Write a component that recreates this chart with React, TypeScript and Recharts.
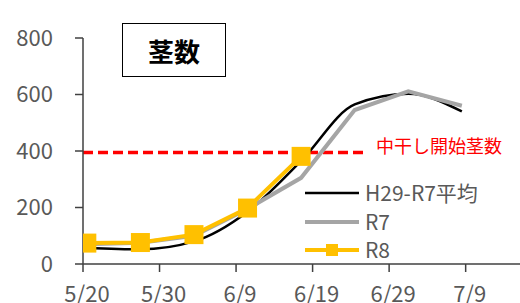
import { Line, LineChart, ReferenceLine, XAxis, YAxis } from "recharts";

const FONT = '"Noto Sans CJK JP", "Noto Sans", sans-serif';

// sampling dates as days after 5/20 (weekly)
const sampleDays = [0, 7, 14, 21, 28, 35, 42, 49];
const avgValues = [57, 52, 80, 185, 365, 565, 603, 540];
const r7Values = [70, 75, 100, 195, 305, 545, 611, 560];
const r8Values = [74, 76, 104, 198, 381, null, null, null];

const xTicks = [0, 10, 20, 30, 40, 50];
const xTickLabels = ["5/20", "5/30", "6/9", "6/19", "6/29", "7/9"];
const yTicks = [0, 200, 400, 600, 800];

const thresholdValue = 395;
const thresholdEndDay = 36.6;

const seriesNames = ["H29-R7平均", "R7", "R8"];

const data = sampleDays.map((d, i) => ({
  day: d + 0.5,
  avg: avgValues[i],
  r7: r7Values[i],
  r8: r8Values[i],
}));

const tickStyle = { fill: "#595959", fontSize: 22, fontFamily: FONT };
const axisColor = "#404040";

// eslint-disable-next-line  @typescript-eslint/no-explicit-any
const SquareDot = (props: any) => {
  const { cx, cy } = props;
  if (cx == null || cy == null) return null;
  return <rect x={cx - 9.5} y={cy - 9.5} width={19} height={19} fill="#FFC000" />;
};

const LegendBox = () => {
  const rows = [
    { name: seriesNames[0], color: "#000000", width: 2.5, square: false },
    { name: seriesNames[1], color: "#A5A5A5", width: 4, square: false },
    { name: seriesNames[2], color: "#FFC000", width: 4, square: true },
  ];
  return (
    <div style={{ position: "absolute", left: 305, top: 178 }}>
      {rows.map((r) => (
        <div key={r.name} style={{ display: "flex", alignItems: "center", height: 28.4 }}>
          <svg width={60} height={20}>
            <line x1={0} x2={54} y1={11} y2={11} stroke={r.color} strokeWidth={r.width} />
            {r.square && <rect x={21} y={5} width={12} height={12} fill={r.color} />}
          </svg>
          <span style={{ fontSize: 21, color: "#595959", fontFamily: FONT, lineHeight: "26px" }}>
            {r.name}
          </span>
        </div>
      ))}
    </div>
  );
};

const App = () => {
  return (
    <div style={{ position: "absolute", left: 0, top: 0, width: 520, height: 303, background: "#fff" }}>
      <LineChart width={520} height={303} data={data} margin={{ top: 38, right: 0, bottom: 0, left: 0 }}>
        <XAxis
          type="number"
          dataKey="day"
          domain={[0, 57.1]}
          ticks={xTicks}
          allowDataOverflow
          tickFormatter={(v: number) => xTickLabels[xTicks.indexOf(v)] ?? ""}
          tick={{ ...tickStyle, dx: 4 }}
          tickSize={8}
          tickMargin={14}
          height={39}
          axisLine={{ stroke: axisColor, strokeWidth: 1.5 }}
          tickLine={{ stroke: axisColor, strokeWidth: 1.5 }}
        />
        <YAxis
          domain={[0, 800]}
          ticks={yTicks}
          width={83}
          tick={tickStyle}
          tickSize={8}
          tickMargin={22}
          axisLine={{ stroke: axisColor, strokeWidth: 1.5 }}
          tickLine={{ stroke: axisColor, strokeWidth: 1.5 }}
        />
        <ReferenceLine
          segment={[
            { x: 0, y: thresholdValue },
            { x: thresholdEndDay, y: thresholdValue },
          ]}
          stroke="#FF0000"
          strokeWidth={3.5}
          strokeDasharray="10 5"
        />
        <Line
          type="monotone"
          dataKey="avg"
          name={seriesNames[0]}
          stroke="#000000"
          strokeWidth={2.5}
          dot={false}
          isAnimationActive={false}
        />
        <Line
          type="linear"
          dataKey="r7"
          name={seriesNames[1]}
          stroke="#A5A5A5"
          strokeWidth={4}
          dot={false}
          isAnimationActive={false}
        />
        <Line
          type="linear"
          dataKey="r8"
          name={seriesNames[2]}
          stroke="#FFC000"
          strokeWidth={4}
          dot={<SquareDot />}
          isAnimationActive={false}
        />
      </LineChart>
      <div
        style={{
          position: "absolute",
          left: 122,
          top: 23,
          width: 102,
          height: 52,
          border: "1.5px solid #000",
          display: "flex",
          alignItems: "center",
          justifyContent: "center",
          fontFamily: FONT,
          fontWeight: "bold",
          fontSize: 26,
          color: "#000",
          background: "#fff",
        }}
      >
        茎数
      </div>
      <div
        style={{
          position: "absolute",
          left: 376,
          top: 133,
          fontFamily: FONT,
          fontSize: 18,
          color: "#FF0000",
          lineHeight: "24px",
          whiteSpace: "nowrap",
        }}
      >
        中干し開始茎数
      </div>
      <LegendBox />
    </div>
  );
};

export default App;
